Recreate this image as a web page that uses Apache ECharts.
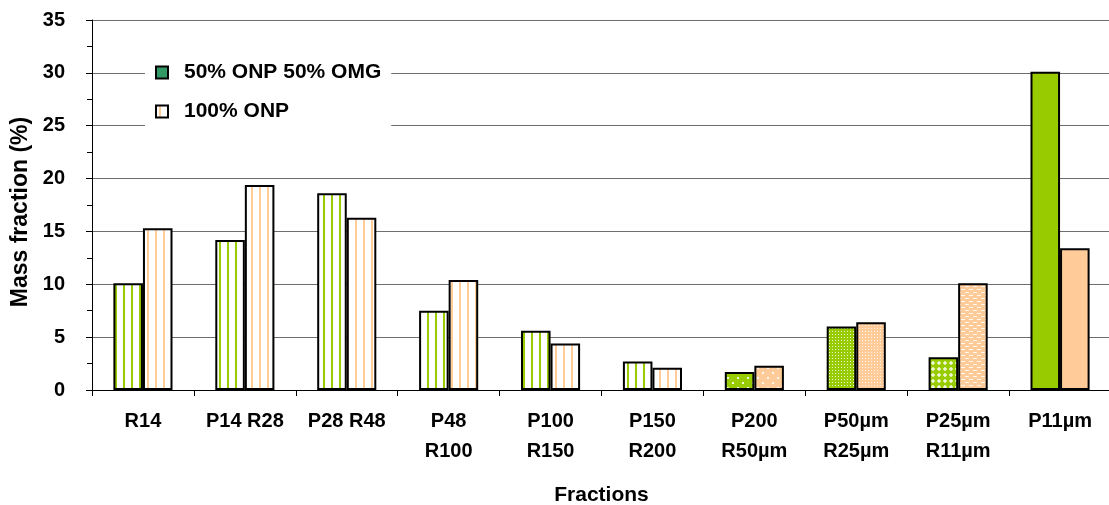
<!DOCTYPE html>
<html>
<head>
<meta charset="utf-8">
<script src="https://cdn.jsdelivr.net/npm/echarts@6/dist/echarts.min.js"></script>
<style>
  html, body { margin: 0; padding: 0; background: #fff; }
  #chart { width: 1109px; height: 505px; }
</style>
</head>
<body>
<div id="chart"></div>
<script>
// Size fractions and mass fractions (%) for the two pulp mixes
const categories = ['R14', 'P14 R28', 'P28 R48', 'P48\nR100', 'P100\nR150', 'P150\nR200',
                    'P200\nR50µm', 'P50µm\nR25µm', 'P25µm\nR11µm', 'P11µm'];
const mixValues = [10.1, 14.2, 18.6, 7.5, 5.6, 2.7, 1.7, 6.0, 3.1, 30.1];
const onpValues = [15.3, 19.4, 16.3, 10.4, 4.4, 2.1, 2.3, 6.4, 10.1, 13.4];
const seriesNames = ['50% ONP 50% OMG', '100% ONP'];
const yTicks = [0, 5, 10, 15, 20, 25, 30, 35];

// Fill style used for each fraction (bars get finer patterns for finer fractions)
const mixFills = ['stripe', 'stripe', 'stripe', 'stripe', 'stripe', 'stripe', 'sparse', 'dense', 'lattice', 'solid'];
const onpFills = ['stripe', 'stripe', 'stripe', 'stripe', 'stripe', 'stripe', 'sparse', 'dense', 'dash', 'solid'];

const GREEN = '#99CC00';
const PEACH = '#FFCC99';

function tile(w, h, draw) {
  const c = document.createElement('canvas');
  c.width = w; c.height = h;
  const ctx = c.getContext('2d');
  draw(ctx, w, h);
  return { image: c, repeat: 'repeat' };
}

function makeFill(kind, col) {
  switch (kind) {
    case 'stripe':
      return tile(8, 8, (ctx) => {
        ctx.fillStyle = '#fff'; ctx.fillRect(0, 0, 8, 8);
        ctx.fillStyle = col; ctx.fillRect(3, 0, 2, 8);
      });
    case 'sparse':
      return tile(10, 10, (ctx) => {
        ctx.fillStyle = col; ctx.fillRect(0, 0, 10, 10);
        ctx.fillStyle = 'rgba(255,255,255,0.85)';
        ctx.fillRect(2, 2, 2, 2); ctx.fillRect(7, 7, 2, 2);
      });
    case 'dense':
      return tile(3, 3, (ctx) => {
        ctx.fillStyle = col; ctx.fillRect(0, 0, 3, 3);
        ctx.fillStyle = 'rgba(255,255,255,0.8)';
        ctx.fillRect(1, 1, 1, 1);
      });
    case 'lattice':
      return tile(6, 6, (ctx) => {
        ctx.fillStyle = col; ctx.fillRect(0, 0, 6, 6);
        ctx.fillStyle = 'rgba(255,255,255,0.6)';
        ctx.fillRect(2, 1, 2, 4); ctx.fillRect(1, 2, 4, 2);
      });
    case 'dash':
      return tile(8, 6, (ctx) => {
        ctx.fillStyle = col; ctx.fillRect(0, 0, 8, 6);
        ctx.fillStyle = 'rgba(255,255,255,0.85)';
        ctx.fillRect(1, 1, 4, 1); ctx.fillRect(5, 4, 3, 1); ctx.fillRect(0, 4, 1, 1);
      });
    default:
      return col;
  }
}

function barData(values, fills, col) {
  return values.map((v, i) => ({
    value: v,
    itemStyle: { color: makeFill(fills[i], col) }
  }));
}

const FONT = 'Liberation Sans, Arial, sans-serif';

const chart = echarts.init(document.getElementById('chart'), null, { renderer: 'canvas' });

chart.setOption({
  animation: false,
  backgroundColor: '#fff',
  grid: { left: 92, right: -2, top: 20, bottom: 115, containLabel: false, outerBoundsMode: 'none' },
  legend: {
    orient: 'vertical',
    left: 145,
    top: 52,
    padding: [10, 10, 7, 10],
    backgroundColor: '#fff',
    itemWidth: 12,
    itemHeight: 12,
    itemGap: 18,
    icon: 'rect',
    textStyle: { fontFamily: FONT, fontWeight: 'bold', fontSize: 21, color: '#000', padding: [0, 0, 0, 11] },
    data: [
      { name: seriesNames[0], itemStyle: { color: '#339966', borderColor: '#000', borderWidth: 2 } },
      { name: seriesNames[1], itemStyle: { color: makeFill('stripe', PEACH), borderColor: '#000', borderWidth: 2 } }
    ]
  },
  xAxis: {
    type: 'category',
    data: categories,
    name: 'Fractions',
    nameLocation: 'middle',
    nameGap: 95,
    nameTextStyle: { fontFamily: FONT, fontWeight: 'bold', fontSize: 21, color: '#000' },
    axisLine: { lineStyle: { color: '#000', width: 1 } },
    axisTick: { show: true, interval: 0, length: 6, lineStyle: { color: '#000' } },
    axisLabel: {
      interval: 0, margin: 17, lineHeight: 29.5,
      fontFamily: FONT, fontWeight: 'bold', fontSize: 20, color: '#000'
    }
  },
  yAxis: {
    type: 'value',
    min: yTicks[0],
    max: yTicks[yTicks.length - 1],
    interval: 5,
    name: 'Mass fraction (%)',
    nameLocation: 'middle',
    nameGap: 59,
    nameTextStyle: { fontFamily: FONT, fontWeight: 'bold', fontSize: 23, color: '#000', padding: [0, 14, 0, 0] },
    axisLine: { show: true, lineStyle: { color: '#000', width: 1 } },
    axisTick: { show: true, length: 6, lineStyle: { color: '#000' } },
    minorTick: { show: true, splitNumber: 2, length: 5, lineStyle: { color: '#000' } },
    axisLabel: { margin: 27, fontFamily: FONT, fontWeight: 'bold', fontSize: 20, color: '#000' },
    splitLine: { show: true, lineStyle: { color: '#6e6e6e', width: 1 } }
  },
  series: [
    {
      name: seriesNames[0],
      type: 'bar',
      barGap: '0%',
      barCategoryGap: '42%',
      itemStyle: { color: GREEN, borderColor: '#000', borderWidth: 2 },
      data: barData(mixValues, mixFills, GREEN)
    },
    {
      name: seriesNames[1],
      type: 'bar',
      barGap: '0%',
      barCategoryGap: '42%',
      itemStyle: { color: PEACH, borderColor: '#000', borderWidth: 2 },
      data: barData(onpValues, onpFills, PEACH)
    }
  ]
});
</script>
</body>
</html>
